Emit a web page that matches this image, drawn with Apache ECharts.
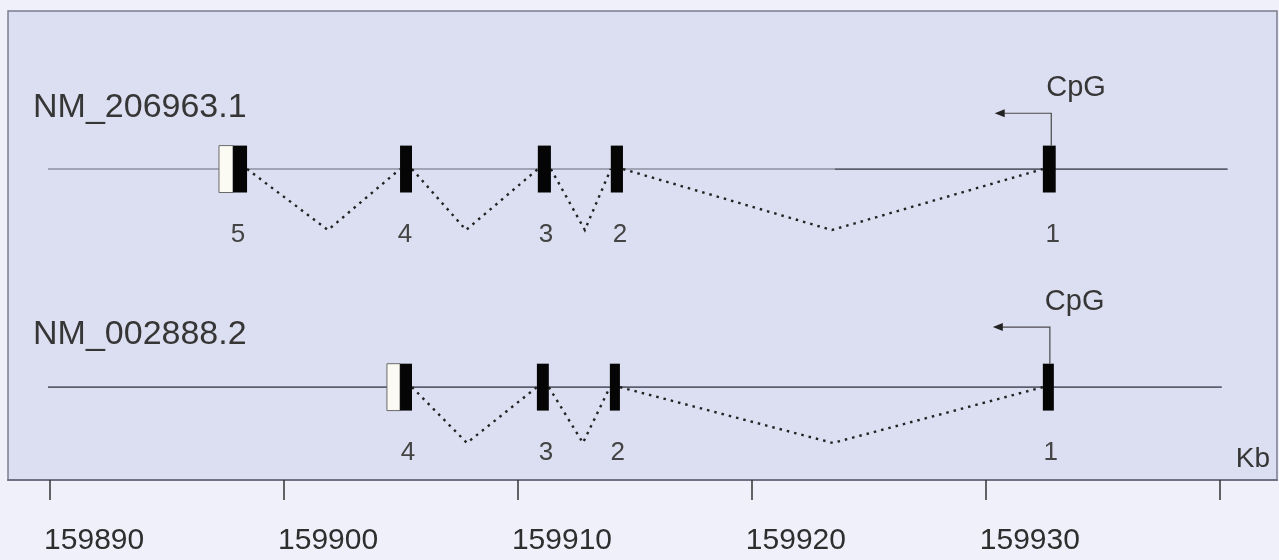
<!DOCTYPE html>
<html>
<head>
<meta charset="utf-8">
<script src="https://cdn.jsdelivr.net/npm/echarts@6/dist/echarts.min.js"></script>
<style>
  html, body { margin: 0; padding: 0; background: #eff0fa; }
  #chart { width: 1279px; height: 560px; }
</style>
</head>
<body>
<div id="chart"></div>
<script>
// ---------------- data (kb positions) ----------------
const transcripts = ['NM_206963.1', 'NM_002888.2'];
const trackY = [6.63, 1.98];              // track centre on the (hidden) y scale
const trackDip = [1.30, 1.19];            // intron V depth
const cpgRise = [1.19, 1.28];             // height of the CpG arrow above the track

const axisTickValues = [159890, 159900, 159910, 159920, 159930, 159940];
const axisLabelValues = [159890, 159900, 159910, 159920, 159930];
const axisUnit = 'Kb';

// transcript 1: NM_206963.1
const tx1ExonLabels = ['5', '4', '3', '2', '1'];
const tx1ExonStart = [159897.22, 159904.96, 159910.85, 159913.97, 159932.44];
const tx1UtrEnd    = [159897.82, 159904.96, 159910.85, 159913.97, 159932.44];
const tx1ExonEnd   = [159898.42, 159905.47, 159911.41, 159914.49, 159932.99];
const tx1LabelX    = [159898.03, 159905.17, 159911.20, 159914.36, 159932.86];
const tx1DipX      = [159901.88, 159907.78, 159912.86, 159923.42];
const tx1LineLight = [159889.91, 159923.55];
const tx1LineDark  = [159923.55, 159940.34];
const tx1CpgStem = 159932.80, tx1CpgTip = 159930.38;

// transcript 2: NM_002888.2
const tx2ExonLabels = ['4', '3', '2', '1'];
const tx2ExonStart = [159904.40, 159910.81, 159913.93, 159932.44];
const tx2UtrEnd    = [159904.96, 159910.81, 159913.93, 159932.44];
const tx2ExonEnd   = [159905.47, 159911.32, 159914.36, 159932.91];
const tx2LabelX    = [159905.30, 159911.20, 159914.27, 159932.78];
const tx2DipX      = [159907.82, 159912.78, 159923.46];
const tx2LineDark  = [159889.91, 159940.09];
const tx2CpgStem = 159932.74, tx2CpgTip = 159930.30;

const cpgLabel = 'CpG';

// ---------------- build series data ----------------
const EXON_HALF = 0.5;
const FONT = "'Liberation Sans', Arial, sans-serif";
const TEXT = '#363636';

const tx = [
  { start: tx1ExonStart, utr: tx1UtrEnd, end: tx1ExonEnd, labels: tx1ExonLabels, labelX: tx1LabelX, dip: tx1DipX, stem: tx1CpgStem, tip: tx1CpgTip },
  { start: tx2ExonStart, utr: tx2UtrEnd, end: tx2ExonEnd, labels: tx2ExonLabels, labelX: tx2LabelX, dip: tx2DipX, stem: tx2CpgStem, tip: tx2CpgTip }
];

const exonData = [], intronData = [], numData = [], cpgData = [], nameData = [];
tx.forEach((t, k) => {
  const y = trackY[k];
  t.start.forEach((s, i) => {
    exonData.push([s, t.utr[i], t.end[i], y]);
    numData.push([t.labelX[i], y - 1.40, t.labels[i]]);
  });
  t.dip.forEach((d, i) => {
    intronData.push([t.end[i], d, t.start[i + 1], y, trackDip[k]]);
  });
  cpgData.push([t.stem, t.tip, y, cpgRise[k]]);
});
nameData.push([159889.27, trackY[0] + 1.30, transcripts[0]]);
nameData.push([159889.27, trackY[1] + 1.11, transcripts[1]]);

const backLight = [[tx1LineLight[0], tx1LineLight[1], trackY[0]]];
const backDark = [[tx1LineDark[0], tx1LineDark[1], trackY[0]], [tx2LineDark[0], tx2LineDark[1], trackY[1]]];

function backboneRender(color, width) {
  return function (params, api) {
    const a = api.coord([api.value(0), api.value(2)]);
    const b = api.coord([api.value(1), api.value(2)]);
    return { type: 'line', shape: { x1: a[0], y1: a[1], x2: b[0], y2: b[1] },
             style: { stroke: color, lineWidth: width } };
  };
}

const chart = echarts.init(document.getElementById('chart'), null, { renderer: 'canvas' });
chart.setOption({
  backgroundColor: '#eff0fa',
  animation: false,
  grid: { left: 8, right: 2, top: 11, bottom: 80, show: true,
          backgroundColor: '#dcdff1', borderColor: '#7b7e8e', borderWidth: 1.5 },
  xAxis: {
    type: 'value', min: 159888.2, max: 159942.45,
    name: axisUnit, nameLocation: 'end', nameGap: -7,
    nameTextStyle: { align: 'right', verticalAlign: 'bottom', fontSize: 28, fontFamily: FONT, color: TEXT, padding: [0, 0, 7, 0] },
    axisLine: { show: true, lineStyle: { color: '#6f7282', width: 2 } },
    axisTick: { show: true, customValues: axisTickValues, length: 20, lineStyle: { color: '#333', width: 1.5 } },
    axisLabel: { show: true, customValues: axisLabelValues, align: 'left', margin: 46,
                 fontSize: 30, fontFamily: FONT, color: '#2e2e2e', padding: [0, 0, 0, -6],
                 formatter: v => String(v) },
    splitLine: { show: false }
  },
  yAxis: { type: 'value', min: 0, max: 10, show: false },
  series: [
    { type: 'custom', name: 'backbone-light', data: backLight, encode: { x: [0, 1], y: 2 },
      renderItem: backboneRender('#8d90a0', 1.5), z: 1 },
    { type: 'custom', name: 'backbone-dark', data: backDark, encode: { x: [0, 1], y: 2 },
      renderItem: backboneRender('#5c5f6c', 1.8), z: 1 },
    { type: 'custom', name: 'introns', data: intronData, encode: { x: [0, 1, 2], y: 3 }, z: 2,
      renderItem: function (params, api) {
        const y = api.value(3), d = api.value(4);
        const p = [api.coord([api.value(0), y]), api.coord([api.value(1), y - d]), api.coord([api.value(2), y])];
        return { type: 'polyline', shape: { points: p },
                 style: { stroke: '#222', lineWidth: 2.4, lineDash: [2.5, 5], fill: null } };
      } },
    { type: 'custom', name: 'exons', data: exonData, encode: { x: [0, 1, 2], y: 3 }, z: 3,
      renderItem: function (params, api) {
        const y = api.value(3);
        const tl = api.coord([api.value(0), y + EXON_HALF]);
        const br = api.coord([api.value(2), y - EXON_HALF]);
        const wx = api.coord([api.value(1), y])[0];
        const h = br[1] - tl[1];
        const children = [];
        if (wx > tl[0] + 0.5) {
          children.push({ type: 'rect', shape: { x: tl[0], y: tl[1], width: wx - tl[0], height: h },
                          style: { fill: '#fbfbf4', stroke: '#6a6a6a', lineWidth: 1 } });
        }
        children.push({ type: 'rect', shape: { x: wx, y: tl[1], width: br[0] - wx, height: h },
                        style: { fill: '#050505' } });
        return { type: 'group', children };
      } },
    { type: 'custom', name: 'cpg', data: cpgData, encode: { x: [0, 1], y: 2 }, z: 3,
      renderItem: function (params, api) {
        const stem = api.value(0), tip = api.value(1), y = api.value(2), rise = api.value(3);
        const a = api.coord([stem, y + EXON_HALF]);
        const b = api.coord([stem, y + rise]);
        const c = api.coord([tip, y + rise]);
        return { type: 'group', children: [
          { type: 'polyline', shape: { points: [a, b, [c[0] + 9, c[1]]] },
            style: { stroke: '#4a4a4a', lineWidth: 1.2, fill: null } },
          { type: 'polygon', shape: { points: [[c[0], c[1]], [c[0] + 10, c[1] - 4], [c[0] + 10, c[1] + 4]] },
            style: { fill: '#222' } },
          { type: 'text', x: b[0] - 5, y: b[1] - 25,
            style: { text: cpgLabel, font: '29px ' + FONT, fill: TEXT, align: 'left', verticalAlign: 'middle' } }
        ] };
      } },
    { type: 'custom', name: 'exon-numbers', data: numData, encode: { x: 0, y: 1 }, z: 4,
      renderItem: function (params, api) {
        const p = api.coord([api.value(0), api.value(1)]);
        return { type: 'text', x: p[0], y: p[1],
                 style: { text: numData[params.dataIndex][2], font: '26px ' + FONT, fill: '#444',
                          align: 'center', verticalAlign: 'middle' } };
      } },
    { type: 'custom', name: 'transcript-names', data: nameData, encode: { x: 0, y: 1 }, z: 4,
      renderItem: function (params, api) {
        const p = api.coord([api.value(0), api.value(1)]);
        return { type: 'text', x: p[0], y: p[1],
                 style: { text: nameData[params.dataIndex][2], font: '34px ' + FONT, fill: TEXT,
                          align: 'left', verticalAlign: 'middle' } };
      } }
  ]
});
</script>
</body>
</html>
